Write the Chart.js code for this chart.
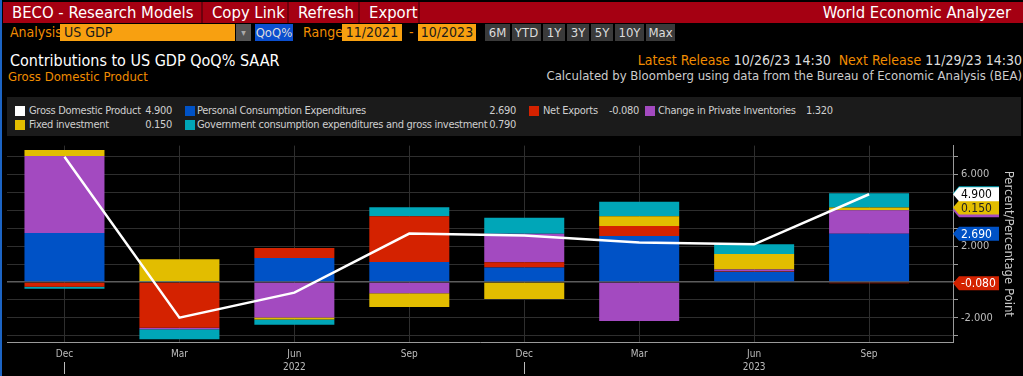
<!DOCTYPE html>
<html>
<head>
<meta charset="utf-8">
<script src="https://cdn.jsdelivr.net/npm/chart.js@4.4.0/dist/chart.umd.min.js"></script>
<style>
  body { margin: 0; background: #000; width: 1023px; height: 376px; overflow: hidden; position: relative;
         font-family: "DejaVu Sans Condensed", sans-serif; }
  .a { position: absolute; white-space: nowrap; }
  .tab { position: absolute; top: 2px; height: 21px; line-height: 21px; color: #fff; font-size: 16.5px;
         background: #a50012; border-right: 2px solid #6e000c; box-sizing: border-box; padding-left: 9px; }
  .org { color: #f08c00; }
  .box { position: absolute; top: 24px; height: 17px; line-height: 17px; font-size: 14px; box-sizing: border-box; }
  .btn { background: #3a3a3a; color: #ddd; text-align: center; font-size: 13px; }
  .lg { position: absolute; font-size: 11px; letter-spacing: -0.3px; color: #cfcfcf; line-height: 14px; white-space: nowrap; }
  .sw { position: absolute; width: 10px; height: 10px; }
</style>
</head>
<body>
<!-- header -->
<div class="a" style="left:3px;top:2px;width:1020px;height:21px;background:#a50012"></div>
<div class="tab" style="left:3px;width:200px">BECO - Research Models</div>
<div class="tab" style="left:203px;width:86px">Copy Link</div>
<div class="tab" style="left:289px;width:71px">Refresh</div>
<div class="tab" style="left:360px;width:60px">Export</div>
<div class="a" style="right:12px;top:2px;line-height:21px;font-size:16.5px;color:#fff">World Economic Analyzer</div>

<div class="a org" style="left:10px;top:24px;line-height:17px;font-size:14px">Analysis</div>
<div class="box" style="left:60px;width:175px;background:#f8a010;color:#1a1a1a;padding-left:4px">US GDP</div>
<div class="box" style="left:236px;width:15px;background:#555;color:#aaa;font-size:10px;text-align:center">&#9662;</div>
<div class="box" style="left:255px;width:38px;background:#0b4fcf;color:#ddd;text-align:center;font-size:13px">QoQ%</div>
<div class="a org" style="left:303px;top:24px;line-height:17px;font-size:14px">Range</div>
<div class="box" style="left:342px;width:60px;background:#f8a010;color:#1a1a1a;text-align:center">11/2021</div>
<div class="a org" style="left:409px;top:24px;line-height:17px;font-size:14px">-</div>
<div class="box" style="left:418px;width:58px;background:#f8a010;color:#1a1a1a;text-align:center">10/2023</div>
<div class="box btn" style="left:485px;width:25px">6M</div>
<div class="box btn" style="left:512px;width:29px">YTD</div>
<div class="box btn" style="left:543px;width:22px">1Y</div>
<div class="box btn" style="left:567px;width:22px">3Y</div>
<div class="box btn" style="left:591px;width:22px">5Y</div>
<div class="box btn" style="left:615px;width:29px">10Y</div>
<div class="box btn" style="left:646px;width:29px">Max</div>

<div class="a" style="left:10px;top:51px;font-size:16px;color:#fff">Contributions to US GDP QoQ% SAAR</div>
<div class="a org" style="left:8px;top:69px;font-size:13px">Gross Domestic Product</div>
<div class="a" style="right:1px;top:52px;font-size:14px;color:#ddd"><span class="org">Latest Release</span> 10/26/23 14:30&nbsp; <span class="org">Next Release</span> 11/29/23 14:30</div>
<div class="a" style="right:1px;top:68px;font-size:13px;color:#ccc">Calculated by Bloomberg using data from the Bureau of Economic Analysis (BEA)</div>

<!-- legend panel -->
<div class="a" id="legend" style="left:7px;top:97px;width:1014px;height:39px;background:#1b1b1b"></div>

<canvas id="gdpChart" width="1023" height="240" style="position:absolute;left:0;top:136px"></canvas>
<div class="a" style="left:0;top:0;width:2px;height:376px;background:#1c64c4"></div>

<script>
// contributions, percentage points, quarterly
const quarters = ['Dec', 'Mar', 'Jun', 'Sep', 'Dec', 'Mar', 'Jun', 'Sep'];
const years = ['', '', '2022', '', '', '', '2023', ''];
const gdp = [7.0, -2.0, -0.6, 2.7, 2.6, 2.2, 2.1, 4.9];
const pce = [2.74, 0.01, 1.34, 1.11, 0.81, 2.56, 0.57, 2.69];
const netExports = [-0.27, -2.56, 0.56, 2.56, 0.29, 0.57, 0.04, -0.08];
const inventories = [4.30, -0.09, -1.99, -0.63, 1.59, -2.19, 0.09, 1.32];
const fixedInv = [0.34, 1.25, -0.11, -0.77, -0.95, 0.54, 0.86, 0.15];
const govt = [-0.11, -0.55, -0.29, 0.50, 0.90, 0.81, 0.54, 0.79];
const yTickLabels = [6, 2, -2];
const yTitle = 'Percent/Percentage Point';

const seriesNames = ['Gross Domestic Product', 'Personal Consumption Expenditures', 'Net Exports',
  'Change in Private Inventories', 'Fixed investment', 'Government consumption expenditures and gross investment'];
const seriesColors = ['#ffffff', '#0052c6', '#d42200', '#a34ac0', '#e2bd00', '#00a6b8'];
const badgeText = ['#000', '#fff', '#fff', '#fff', '#222', '#fff'];
const allSeries = [gdp, pce, netExports, inventories, fixedInv, govt];

const last = quarters.length - 1;
const pts = arr => arr.map((v, i) => ({ x: i, y: v }));

// legend (html)
const lgPos = [
  { sw: 15, lb: 29, vr: 172, top: 104 },
  { sw: 185, lb: 197, vr: 516, top: 104 },
  { sw: 529, lb: 543, vl: 609, top: 104 },
  { sw: 645, lb: 658, vl: 806, top: 104 },
  { sw: 15, lb: 29, vr: 172, top: 118 },
  { sw: 185, lb: 197, vr: 516, top: 118 }
];
let html = '';
lgPos.forEach((p, i) => {
  const val = allSeries[i][last].toFixed(3);
  html += `<div class="sw" style="left:${p.sw}px;top:${p.top + 2}px;background:${seriesColors[i]}"></div>`;
  html += `<div class="lg" style="left:${p.lb}px;top:${p.top}px">${seriesNames[i]}</div>`;
  if (p.vr) html += `<div class="lg" style="right:${1023 - p.vr}px;top:${p.top}px">${val}</div>`;
  else html += `<div class="lg" style="left:${p.vl}px;top:${p.top}px">${val}</div>`;
});
document.body.insertAdjacentHTML('beforeend', html);

const badges = {
  id: 'badges',
  afterDraw(chart) {
    const ctx = chart.ctx;
    const x0 = chart.scales.y.left;
    [5, 3, 4, 1, 2, 0].forEach(i => {
      const el = chart.getDatasetMeta(i).data[last];
      const y = el.y;
      ctx.save();
      ctx.fillStyle = seriesColors[i];
      ctx.beginPath();
      ctx.moveTo(x0, y);
      ctx.lineTo(x0 + 6, y - 7);
      ctx.lineTo(x0 + 46, y - 7);
      ctx.lineTo(x0 + 46, y + 7);
      ctx.lineTo(x0 + 6, y + 7);
      ctx.closePath();
      ctx.fill();
      ctx.fillStyle = badgeText[i];
      ctx.font = '12px "DejaVu Sans Condensed", sans-serif';
      ctx.textBaseline = 'middle';
      ctx.fillText(allSeries[i][last].toFixed(3), x0 + 8, y + 1);
      ctx.restore();
    });
    // right axis title, reads top to bottom
    const ca = chart.chartArea;
    ctx.save();
    ctx.translate(x0 + 55, (ca.top + ca.bottom) / 2);
    ctx.rotate(Math.PI / 2);
    ctx.fillStyle = '#c8c8c8';
    ctx.font = '13px "DejaVu Sans Condensed", sans-serif';
    ctx.textAlign = 'center';
    ctx.textBaseline = 'middle';
    ctx.fillText(yTitle, 0, 0);
    ctx.restore();
    // year separators under the axis
    const xs = chart.scales.x;
    ctx.save();
    ctx.strokeStyle = '#bbb';
    ctx.lineWidth = 1;
    quarters.forEach((q, i) => {
      if (q !== 'Dec') return;
      const x = Math.round(xs.getPixelForValue(i)) + 0.5;
      ctx.beginPath();
      ctx.moveTo(x, 226);
      ctx.lineTo(x, 238);
      ctx.stroke();
    });
    ctx.restore();
  }
};

const barSet = (i, data) => ({
  type: 'bar',
  label: seriesNames[i],
  data: pts(data),
  backgroundColor: seriesColors[i],
  borderWidth: 0,
  stack: 'contrib',
  order: 1,
  categoryPercentage: 0.8,
  barPercentage: 0.87
});

const chartGdp = new Chart(document.getElementById('gdpChart'), {
  type: 'bar',
  data: {
    datasets: [
      {
        type: 'line',
        label: seriesNames[0],
        data: pts(gdp),
        borderColor: '#ffffff',
        borderWidth: 2.5,
        pointRadius: 0,
        tension: 0,
        stack: 'gdp',
        order: 0
      },
      barSet(1, pce),
      barSet(2, netExports),
      barSet(3, inventories),
      barSet(4, fixedInv),
      barSet(5, govt)
    ]
  },
  options: {
    responsive: false,
    animation: false,
    layout: { padding: { left: 7, top: 2, right: 0, bottom: 0 } },
    plugins: { legend: { display: false }, tooltip: { enabled: false } },
    scales: {
      x: {
        type: 'linear',
        min: -0.5,
        max: 7.73,
        offset: false,
        stacked: true,
        afterBuildTicks: s => { s.ticks = quarters.map((q, i) => ({ value: i })); },
        afterFit: s => { s.height = 34; },
        grid: { color: '#2e2e2e', drawTicks: false, offset: false },
        border: { color: '#9a9a9a' },
        ticks: {
          autoSkip: false,
          maxRotation: 0,
          padding: 6,
          color: '#bdbdbd',
          font: { family: '"DejaVu Sans Condensed", sans-serif', size: 10, lineHeight: 1.3 },
          callback: v => years[v] ? [quarters[v], years[v]] : quarters[v]
        }
      },
      y: {
        position: 'right',
        stacked: true,
        min: -3.36,
        max: 7.62,
        afterFit: s => { s.width = 70; },
        grid: {
          color: c => c.tick && c.tick.value === 0 ? '#5c5c5c' : '#2e2e2e',
          lineWidth: c => c.tick && c.tick.value === 0 ? 1.5 : 1,
          tickLength: 5,
          tickColor: '#9a9a9a'
        },
        border: { color: '#9a9a9a' },
        ticks: {
          stepSize: 1,
          includeBounds: false,
          autoSkip: false,
          padding: 3,
          color: '#bdbdbd',
          font: { family: '"DejaVu Sans Condensed", sans-serif', size: 11 },
          callback: v => yTickLabels.includes(v) ? v.toFixed(3) : ''
        }
      }
    }
  },
  plugins: [badges]
});
</script>
</body>
</html>
